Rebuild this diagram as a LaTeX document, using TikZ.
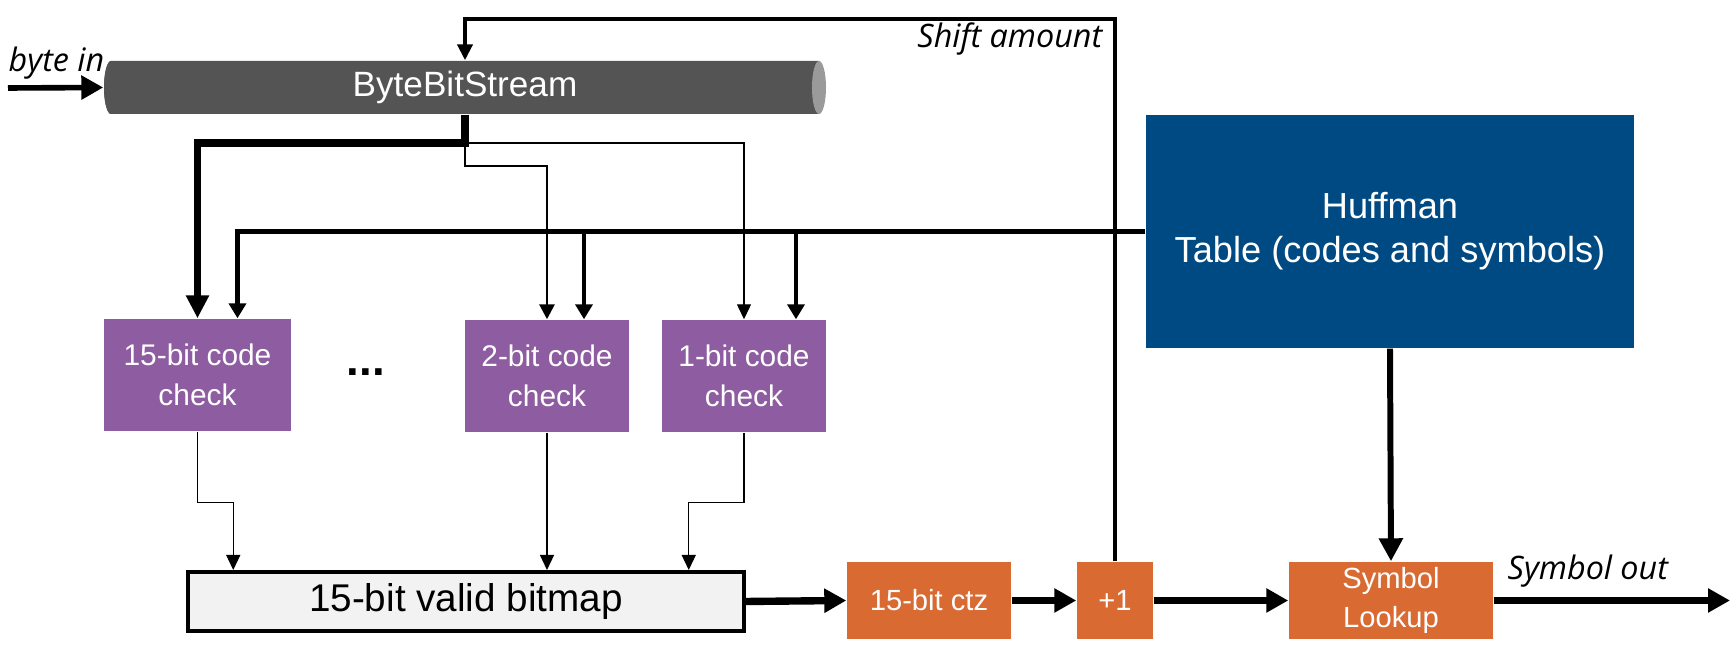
\documentclass[tikz,border=0pt]{standalone}
\usepackage{fontspec}
\setmainfont{Liberation Sans}
\newfontfamily\labelfont{Open Sans}
\usetikzlibrary{arrows.meta}

\definecolor{checkpurple}{HTML}{8E5DA1}
\definecolor{tableblue}{HTML}{004A83}
\definecolor{oporange}{HTML}{D96A32}
\definecolor{streamgray}{HTML}{545454}
\definecolor{streamend}{HTML}{9A9A9A}
\definecolor{mapgray}{HTML}{F2F2F2}

\begin{document}
\begin{tikzpicture}[x=0.1mm, y=-0.1mm,
  checkbox/.style={fill=checkpurple, text=white, minimum width=16.4mm,
    minimum height=11.2mm, inner sep=0pt, align=center,
    font=\fontsize{8.5}{11.4}\selectfont},
  opbox/.style={fill=oporange, text=white, minimum height=7.7mm,
    inner sep=0pt, align=center, font=\fontsize{8.3}{10.9}\selectfont},
  tag/.style={inner sep=0pt, font=\labelfont\itshape\fontsize{9.2}{11}\selectfont},
  flow/.style={line width=2.1pt, -{Triangle[length=2.2mm, width=2.3mm]}},
  bus/.style={line width=2pt, -{Triangle[length=2.3mm, width=2.2mm]}},
  hline/.style={line width=1.2pt, -{Triangle[length=1.5mm, width=1.7mm]}},
  midline/.style={line width=0.8pt, -{Triangle[length=1.5mm, width=1.5mm]}},
  wire/.style={line width=0.35pt, -{Triangle[length=1.5mm, width=1.4mm]}}]

  \useasboundingbox (0,0) rectangle (1732,653);

  % === Stream pipe (body with a rounded back and a light end face) ===
  \fill[streamgray] (111,114) -- (819,114) -- (819,61) -- (111,61)
    arc[start angle=270, end angle=90, x radius=7, y radius=26.5] -- cycle;
  \fill[streamgray] (111,114) arc[start angle=90, end angle=270,
    x radius=7, y radius=26.5] -- cycle;
  \fill[streamend] (819,87.5) ellipse [x radius=7, y radius=26.5];
  \node[minimum width=72.2mm, minimum height=5.3mm, inner sep=0pt, text=white,
    font=\fontsize{10}{12}\selectfont] (stream) at (465,87.5) {ByteBitStream};

  % === Blocks ===
  \node[checkbox, minimum width=18.7mm] (c15) at (197.5,375) {15-bit code\\check};
  \node[checkbox] (c2) at (547,376) {2-bit code\\check};
  \node[checkbox] (c1) at (744,376) {1-bit code\\check};
  \node[font=\bfseries\fontsize{13}{13}\selectfont] (dots) at (366,372) {...};

  \node[fill=tableblue, text=white, minimum width=48.8mm, minimum height=23.3mm,
    align=center, font=\fontsize{10.3}{12.5}\selectfont]
    (huff) at (1390,231.5) {Huffman\\Table (codes and symbols)};

  \node[draw, line width=1pt, fill=mapgray, minimum width=55.6mm,
    minimum height=5.9mm, font=\fontsize{11}{13}\selectfont]
    (bitmap) at (466,601.5) {15-bit valid bitmap};

  \node[opbox, minimum width=16.4mm] (ctz) at (929,600.5) {15-bit ctz};
  \node[opbox, minimum width=7.6mm] (plus) at (1115,600.5) {+1};
  \node[opbox, minimum width=20.4mm] (lookup) at (1391,600.5) {Symbol\\Lookup};

  % === Input and output ===
  \coordinate (in) at (8,88);
  \coordinate (out) at (1730,600.5);
  \draw[flow, line width=1.6pt] (in) -- (stream.west);
  \node[tag, anchor=base west] (inlabel) at (8,72) {byte in};

  % === Feedback: shift amount ===
  \coordinate (fbtop) at (0,19);
  \draw[line width=1.2pt, -{Triangle[length=1.6mm, width=1.5mm]}]
    (plus.north) -- (plus.north |- fbtop) -| (stream.north);
  \node[tag, anchor=base east] (shiftlabel) at (1103,48) {Shift amount};

  % === Bits from the stream to the code checks ===
  \coordinate (split) at (465,143);
  \draw[bus] (stream.south) -- (split) -| (c15.north);
  \draw[midline] (split) -- ++(0,23) -| (c2.north);
  \draw[wire] (split) -| (c1.north);

  % === Codes from the Huffman table ===
  \coordinate (h2) at ([xshift=3.7mm]c2.north);
  \coordinate (h1) at ([xshift=5.2mm]c1.north);
  \draw[hline] (huff.west) -| ([xshift=4mm]c15.north);
  \draw[hline] (h2 |- huff.west) -- (h2);
  \draw[hline] (h1 |- huff.west) -- (h1);

  % === Check results into the bitmap ===
  \draw[wire] (c15.south) -- ++(0,71) -| ([xshift=4.7mm]bitmap.north west);
  \draw[wire] (c2.south) -- (c2.south |- bitmap.north);
  \draw[wire] (c1.south) -- ++(0,70) -| ([xshift=-5.7mm]bitmap.north east);

  % === Main data path ===
  \draw[flow] (bitmap.east) -- (ctz.west);
  \draw[flow] (ctz.east) -- (plus.west);
  \draw[flow] (plus.east) -- (lookup.west);
  \draw[flow] (lookup.east) -- (out);
  \node[tag, anchor=base west] (outlabel) at (1507,580) {Symbol out};

  \draw[line width=1.7pt, -{Triangle[length=2.3mm, width=2.3mm]}]
    (huff.south) -- (lookup.north);

\end{tikzpicture}
\end{document}
